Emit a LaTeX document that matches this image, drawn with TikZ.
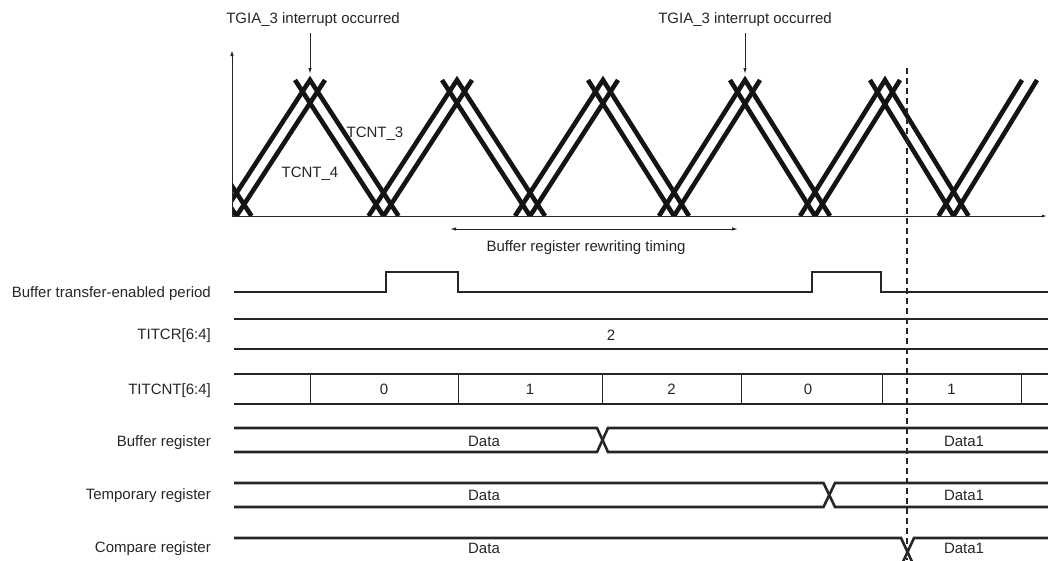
\documentclass[tikz,border=0pt]{standalone}
\usepackage{fontspec}
\setmainfont{Liberation Sans}
\usetikzlibrary{arrows.meta}
\begin{document}
\begin{tikzpicture}[x=1pt,y=-1pt,
  lbl/.style={inner sep=0pt, text height=10.7pt, text depth=0pt, font=\fontsize{15}{18}\selectfont, text=black!85},
  cnt/.style={line width=4.6pt, black!92, line cap=butt, line join=miter},
  sig/.style={line width=2.6pt, black!85, line join=miter},
  thinl/.style={line width=1pt, black!85},
  arr/.style={thinl, -{Latex[length=6pt,width=3.5pt]}},
  dashln/.style={line width=1.1pt, black!85, dash pattern=on 6pt off 4pt}]
\useasboundingbox (0,0) rectangle (1048,560);
\clip (0,0) rectangle (1048,560);

% ---------- counters ----------
\begin{scope}
\clip (232,40) rectangle (1048,216);
\draw[cnt] (163,80) -- (251.5,216);
\draw[cnt] (148,80) -- (236.5,216) -- (325,80);
\draw[cnt] (221.5,216) -- (310,80) -- (398.5,216);
\draw[cnt] (295,80) -- (383.5,216) -- (472,80);
\draw[cnt] (368.5,216) -- (457,80) -- (545,216);
\draw[cnt] (442,80) -- (530,216) -- (618,80);
\draw[cnt] (515,216) -- (603,80) -- (689,216);
\draw[cnt] (588,80) -- (674,216) -- (760,80);
\draw[cnt] (659,216) -- (745,80) -- (830,216);
\draw[cnt] (730,80) -- (815,216) -- (900,80);
\draw[cnt] (800,216) -- (885,80) -- (968.5,216);
\draw[cnt] (870,80) -- (953.5,216) -- (1037,80);
\draw[cnt] (938.5,216) -- (1022,80);
\end{scope}

% axes
\coordinate (org) at (232,216);
\coordinate (ytop) at (232,50);
\coordinate (xend) at (1047,216);
\draw[arr] (org) -- (ytop);
\draw[thinl, -{Latex[length=5pt,width=3pt]}] (org) -- (xend);

\node[lbl] (c3) at (375,132) {TCNT\_3};
\node[lbl] (c4) at (310,172) {TCNT\_4};

% interrupts
\node[lbl] (t1) at (313,18) {TGIA\_3 interrupt occurred};
\node[lbl] (t2) at (745,18) {TGIA\_3 interrupt occurred};
\coordinate (a1s) at (310,33);
\coordinate (a1) at (310,74);
\coordinate (a2s) at (745,33);
\coordinate (a2) at (745,74);
\draw[arr] (a1s) -- (a1);
\draw[arr] (a2s) -- (a2);

% rewriting timing
\coordinate (rwL) at (450,229);
\coordinate (rwR) at (738,229);
\draw[thinl, {Latex[length=6pt,width=3.5pt]}-{Latex[length=6pt,width=3.5pt]}] (rwL) -- (rwR);
\node[lbl] (rwt) at (586,246) {Buffer register rewriting timing};

% dashed marker
\coordinate (dmT) at (907,68);
\coordinate (dmB) at (907,560);
\draw[dashln] (dmT) -- (dmB);

% row labels
\node[lbl,anchor=east] (l1) at (211,292) {Buffer transfer-enabled period};
\node[lbl,anchor=east] (l2) at (211,334) {TITCR[6:4]};
\node[lbl,anchor=east] (l3) at (211,389) {TITCNT[6:4]};
\node[lbl,anchor=east] (l4) at (211,441) {Buffer register};
\node[lbl,anchor=east] (l5) at (211,494) {Temporary register};
\node[lbl,anchor=east] (l6) at (211,547) {Compare register};

% buffer transfer-enabled period
\draw[sig] (234,292) -- (386,292) -- (386,272) -- (458,272) -- (458,292) -- (812,292) -- (812,272) -- (881,272) -- (881,292) -- (1048,292);

% TITCR
\draw[sig] (234,319) -- (1048,319);
\draw[sig] (234,349) -- (1048,349);
\node[lbl] (v2) at (611,335) {2};

% TITCNT
\draw[sig] (234,374) -- (1048,374);
\draw[sig] (234,404) -- (1048,404);
\foreach \x in {310,458,602,741,882,1021} \draw[thinl] (\x,374) -- (\x,404);
\node[lbl] (n0) at (384,389) {0};
\node[lbl] (n1) at (530,389) {1};
\node[lbl] (n2) at (671.5,389) {2};
\node[lbl] (n3) at (808,389) {0};
\node[lbl] (n4) at (951.5,389) {1};

% buffer register
\draw[sig] (234,428) -- (597,428) -- (608,452) -- (1048,452);
\draw[sig] (234,452) -- (597,452) -- (608,428) -- (1048,428);
\node[lbl] (d1) at (484,441) {Data};
\node[lbl] (e1) at (964,441) {Data1};

% temporary register
\draw[sig] (234,483) -- (823.5,483) -- (835,507) -- (1048,507);
\draw[sig] (234,507) -- (823.5,507) -- (835,483) -- (1048,483);
\node[lbl] (d2) at (484,495) {Data};
\node[lbl] (e2) at (964,495) {Data1};

% compare register (lower edge lies below the picture)
\draw[sig] (234,538) -- (901,538) -- (914,566);
\draw[sig] (901,566) -- (914,538) -- (1048,538);
\node[lbl] (d3) at (484,548) {Data};
\node[lbl] (e3) at (964,548) {Data1};
\end{tikzpicture}
\end{document}
